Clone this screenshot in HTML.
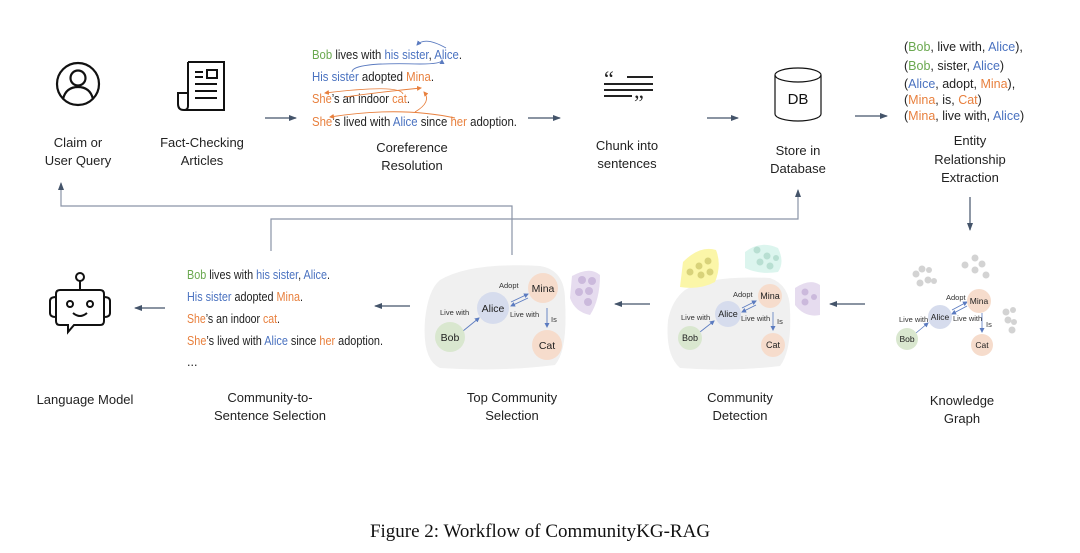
<!DOCTYPE html>
<html><head><meta charset="utf-8"><style>
html,body{margin:0;padding:0;background:#fff;}
svg{display:block;font-family:"Liberation Sans",sans-serif;}
.l{font-size:13px;fill:#222;text-anchor:middle;}
.g{fill:#6aa84f}.b{fill:#4a72c0}.o{fill:#e8803e}
.t{font-size:12.5px;fill:#222;}
.e{font-size:7.5px;fill:#333;}
</style></head><body>
<svg width="1080" height="553" viewBox="0 0 1080 553">
<defs>
<marker id="ah" markerWidth="8" markerHeight="8" refX="7" refY="4" orient="auto" markerUnits="userSpaceOnUse"><path d="M0,1 L8,4 L0,7z" fill="#44546a"/></marker>
<marker id="sa" markerWidth="5" markerHeight="5" refX="4" refY="2.5" orient="auto" markerUnits="userSpaceOnUse"><path d="M0,0 L5,2.5 L0,5z" fill="#5b7bc0"/></marker>
<marker id="so" markerWidth="5" markerHeight="5" refX="4" refY="2.5" orient="auto" markerUnits="userSpaceOnUse"><path d="M0,0 L5,2.5 L0,5z" fill="#e8803e"/></marker>
</defs>
<g stroke="#44546a" stroke-width="1.2" fill="none">
<line x1="265" y1="118" x2="296" y2="118" marker-end="url(#ah)"/>
<line x1="528" y1="118" x2="560" y2="118" marker-end="url(#ah)"/>
<line x1="707" y1="118" x2="738" y2="118" marker-end="url(#ah)"/>
<line x1="855" y1="116" x2="887" y2="116" marker-end="url(#ah)"/>
<line x1="970" y1="197" x2="970" y2="230" marker-end="url(#ah)"/>
<line x1="865" y1="304" x2="830" y2="304" marker-end="url(#ah)"/>
<line x1="650" y1="304" x2="615" y2="304" marker-end="url(#ah)"/>
<line x1="410" y1="306" x2="375" y2="306" marker-end="url(#ah)"/>
<line x1="165" y1="308" x2="135" y2="308" marker-end="url(#ah)"/>
<polyline points="512,255 512,206 61,206 61,183" marker-end="url(#ah)" stroke="#8a94a6"/>
<polyline points="271,251 271,219 798,219 798,190" marker-end="url(#ah)" stroke="#8a94a6"/>
</g>
<g stroke="#111" stroke-width="2.2" fill="none">
<circle cx="78" cy="84" r="21"/><circle cx="78" cy="78" r="7.5"/><path d="M63,99 Q66,87 78,87 Q90,87 93,99"/>
</g>
<g stroke="#111" stroke-width="2" fill="none">
<path d="M188,62 H224 V110 H184"/><path d="M188,62 V106 Q188,110 184,110 Q178,110 178,104 V93 H188"/>
<line x1="195" y1="72" x2="203" y2="72"/><line x1="195" y1="77" x2="203" y2="77"/><rect x="207" y="70" width="10" height="8"/>
<line x1="195" y1="84" x2="217" y2="84"/><line x1="195" y1="91" x2="217" y2="91"/><line x1="195" y1="98" x2="217" y2="98"/>
</g>
<g fill="#222"><text x="604" y="86" font-size="22" font-family="Liberation Serif">“</text><text x="634" y="110" font-size="22" font-family="Liberation Serif">”</text></g>
<g stroke="#222" stroke-width="2"><line x1="627" y1="77" x2="653" y2="77"/><line x1="604" y1="84" x2="653" y2="84"/><line x1="604" y1="90" x2="653" y2="90"/><line x1="604" y1="96" x2="632" y2="96"/></g>
<g stroke="#111" stroke-width="1.2" fill="none"><path d="M775,75 V114 A23,7 0 0 0 821,114 V75"/><ellipse cx="798" cy="75" rx="23" ry="7"/></g>
<text x="798" y="104" font-size="15" text-anchor="middle" fill="#111">DB</text>
<g class="t" font-size="11">
<text x="312" y="59" textLength="150" lengthAdjust="spacingAndGlyphs"><tspan class="g">Bob</tspan> lives with <tspan class="b">his sister</tspan>, <tspan class="b">Alice</tspan>.</text>
<text x="312" y="81" textLength="122" lengthAdjust="spacingAndGlyphs"><tspan class="b">His sister</tspan> adopted <tspan class="o">Mina</tspan>.</text>
<text x="312" y="103" textLength="98" lengthAdjust="spacingAndGlyphs"><tspan class="o">She</tspan>’s an indoor <tspan class="o">cat</tspan>.</text>
<text x="312" y="126" textLength="205" lengthAdjust="spacingAndGlyphs"><tspan class="o">She</tspan>’s lived with <tspan class="b">Alice</tspan> since <tspan class="o">her</tspan> adoption.</text>
</g>
<g fill="none" stroke-width="0.9">
<path d="M446,48 Q425,36 417,45" stroke="#5b7bc0" marker-end="url(#sa)"/>
<path d="M352,72 Q352,62 420,64 Q442,64 442,60" stroke="#5b7bc0" marker-end="url(#sa)"/>
<path d="M403,94 Q400,84 325,93" stroke="#e8803e" marker-end="url(#so)"/>
<path d="M345,97 Q380,92 421,88" stroke="#e8803e" marker-end="url(#so)"/>
<path d="M455,118 Q400,106 330,117" stroke="#e8803e" marker-end="url(#so)"/>
<path d="M415,112 Q432,102 424,92" stroke="#e8803e" marker-end="url(#so)"/>
</g>
<g class="t" font-size="12.5">
<text x="904" y="51">(<tspan class="g">Bob</tspan>, live with, <tspan class="b">Alice</tspan>),</text>
<text x="904" y="70">(<tspan class="g">Bob</tspan>, sister, <tspan class="b">Alice</tspan>)</text>
<text x="904" y="88">(<tspan class="b">Alice</tspan>, adopt, <tspan class="o">Mina</tspan>),</text>
<text x="904" y="104">(<tspan class="o">Mina</tspan>, is, <tspan class="o">Cat</tspan>)</text>
<text x="904" y="120">(<tspan class="o">Mina</tspan>, live with, <tspan class="b">Alice</tspan>)</text>
</g>
<g stroke="#111" stroke-width="2" fill="none">
<circle cx="80" cy="277" r="4"/><line x1="80" y1="281" x2="80" y2="290"/>
<path d="M60,290 H100 Q104,290 104,294 V321 Q104,325 100,325 H74 L68,332 V325 H60 Q56,325 56,321 V294 Q56,290 60,290z"/>
<path d="M56,297 Q50,297 50,301 V313 Q50,317 56,317"/><path d="M104,297 Q110,297 110,301 V313 Q110,317 104,317"/>
<circle cx="70" cy="304" r="3"/><circle cx="90" cy="304" r="3"/><path d="M73,313 Q80,319 87,313"/>
</g>
<g class="t" font-size="10.5">
<text x="187" y="279" textLength="143" lengthAdjust="spacingAndGlyphs"><tspan class="g">Bob</tspan> lives with <tspan class="b">his sister</tspan>, <tspan class="b">Alice</tspan>.</text>
<text x="187" y="301" textLength="116" lengthAdjust="spacingAndGlyphs"><tspan class="b">His sister</tspan> adopted <tspan class="o">Mina</tspan>.</text>
<text x="187" y="323" textLength="93" lengthAdjust="spacingAndGlyphs"><tspan class="o">She</tspan>’s an indoor <tspan class="o">cat</tspan>.</text>
<text x="187" y="345" textLength="196" lengthAdjust="spacingAndGlyphs"><tspan class="o">She</tspan>’s lived with <tspan class="b">Alice</tspan> since <tspan class="o">her</tspan> adoption.</text>
<text x="187" y="366">...</text>
</g>
<path d="M440,280 Q470,262 540,266 Q565,270 565,300 Q568,350 555,365 Q500,372 440,368 Q422,360 425,320 Q428,290 440,280z" fill="#f0f0f0"/>
<path d="M572,276 Q590,266 600,275 Q600,300 590,315 Q575,312 570,298z" fill="#e6dcef"/>
<g fill="#cbb9dc"><circle cx="582" cy="280" r="4"/><circle cx="592" cy="281" r="4"/><circle cx="589" cy="291" r="4"/><circle cx="579" cy="292" r="4"/><circle cx="588" cy="302" r="4"/></g>
<g stroke="#5b7bc0" stroke-width="0.9" fill="none">
<line x1="463" y1="331" x2="479" y2="318" marker-end="url(#sa)"/>
<line x1="511" y1="302" x2="528" y2="294" marker-end="url(#sa)"/>
<line x1="528" y1="298" x2="511" y2="306" marker-end="url(#sa)"/>
<line x1="547" y1="308" x2="547" y2="327" marker-end="url(#sa)"/>
</g>
<circle cx="493" cy="308" r="16" fill="#d6dced"/><circle cx="543" cy="288" r="15" fill="#f6dccc"/>
<circle cx="450" cy="337" r="15" fill="#d9e7cf"/><circle cx="547" cy="345" r="15" fill="#f6dccc"/>
<g font-size="10.5" text-anchor="middle" fill="#222"><text x="493" y="312">Alice</text><text x="543" y="292">Mina</text><text x="450" y="341">Bob</text><text x="547" y="349">Cat</text></g>
<g class="e" font-size="8"><text x="499" y="288">Adopt</text><text x="440" y="315">Live with</text><text x="510" y="317">Live with</text><text x="551" y="322">Is</text></g>
<path d="M685,290 Q710,275 770,278 Q790,285 790,310 Q792,350 780,366 Q730,372 680,368 Q665,355 668,320 Q672,300 685,290z" fill="#f0f0f0"/>
<path d="M683,262 Q700,245 716,250 Q722,265 715,282 Q700,290 680,287z" fill="#fbf6a8"/>
<g fill="#d8d27a"><circle cx="690" cy="272" r="3.5"/><circle cx="699" cy="266" r="3.5"/><circle cx="708" cy="261" r="3.5"/><circle cx="701" cy="275" r="3.5"/><circle cx="710" cy="272" r="3.5"/></g>
<path d="M745,252 Q760,240 778,248 Q785,262 778,272 Q760,275 745,268z" fill="#dcf5ee"/>
<g fill="#b8dfd2"><circle cx="757" cy="250" r="3.5"/><circle cx="767" cy="256" r="3.5"/><circle cx="776" cy="258" r="3"/><circle cx="760" cy="262" r="3.5"/><circle cx="770" cy="266" r="3.5"/></g>
<path d="M795,288 Q810,278 820,285 V315 Q805,318 795,305z" fill="#e6dcef"/>
<g fill="#cbb9dc"><circle cx="805" cy="292" r="3.5"/><circle cx="805" cy="302" r="3.5"/><circle cx="814" cy="297" r="3"/></g>
<g stroke="#5b7bc0" stroke-width="0.8" fill="none">
<line x1="700" y1="332" x2="714" y2="321" marker-end="url(#sa)"/>
<line x1="742" y1="308" x2="756" y2="301" marker-end="url(#sa)"/>
<line x1="756" y1="305" x2="742" y2="312" marker-end="url(#sa)"/>
<line x1="773" y1="312" x2="773" y2="330" marker-end="url(#sa)"/>
</g>
<circle cx="728" cy="314" r="13" fill="#d6dced"/><circle cx="770" cy="296" r="12" fill="#f6dccc"/>
<circle cx="690" cy="338" r="12" fill="#d9e7cf"/><circle cx="773" cy="345" r="12" fill="#f6dccc"/>
<g font-size="9" text-anchor="middle" fill="#222"><text x="728" y="317">Alice</text><text x="770" y="299">Mina</text><text x="690" y="341">Bob</text><text x="773" y="348">Cat</text></g>
<g class="e" font-size="7"><text x="733" y="297">Adopt</text><text x="681" y="320">Live with</text><text x="741" y="321">Live with</text><text x="777" y="324">Is</text></g>
<g fill="#d3d3d3">
<circle cx="916" cy="274" r="3.5"/><circle cx="922" cy="269" r="3.5"/><circle cx="929" cy="270" r="3"/><circle cx="920" cy="283" r="3.5"/><circle cx="928" cy="280" r="3.5"/><circle cx="934" cy="281" r="3"/>
<circle cx="965" cy="265" r="3.5"/><circle cx="975" cy="258" r="3.5"/><circle cx="982" cy="264" r="3.5"/><circle cx="975" cy="270" r="3.5"/><circle cx="986" cy="275" r="3.5"/>
<circle cx="1006" cy="312" r="3.5"/><circle cx="1013" cy="310" r="3"/><circle cx="1008" cy="320" r="3.5"/><circle cx="1014" cy="322" r="3"/><circle cx="1012" cy="330" r="3.5"/>
</g>
<g stroke="#5b7bc0" stroke-width="0.8" fill="none">
<line x1="916" y1="333" x2="928" y2="323" marker-end="url(#sa)"/>
<line x1="952" y1="310" x2="967" y2="302" marker-end="url(#sa)"/>
<line x1="967" y1="306" x2="952" y2="314" marker-end="url(#sa)"/>
<line x1="982" y1="313" x2="982" y2="332" marker-end="url(#sa)"/>
</g>
<circle cx="940" cy="317" r="12" fill="#d6dced"/><circle cx="979" cy="301" r="12" fill="#f6dccc"/>
<circle cx="907" cy="339" r="11" fill="#d9e7cf"/><circle cx="982" cy="345" r="11" fill="#f6dccc"/>
<g font-size="8.5" text-anchor="middle" fill="#222"><text x="940" y="320">Alice</text><text x="979" y="304">Mina</text><text x="907" y="342">Bob</text><text x="982" y="348">Cat</text></g>
<g class="e" font-size="6.5"><text x="946" y="300">Adopt</text><text x="899" y="322">Live with</text><text x="953" y="321">Live with</text><text x="986" y="327">Is</text></g>
<g class="l">
<text x="78" y="147">Claim or</text><text x="78" y="165">User Query</text>
<text x="202" y="147">Fact-Checking</text><text x="202" y="165">Articles</text>
<text x="412" y="152">Coreference</text><text x="412" y="170">Resolution</text>
<text x="627" y="150">Chunk into</text><text x="627" y="168">sentences</text>
<text x="798" y="155">Store in</text><text x="798" y="173">Database</text>
<text x="970" y="145">Entity</text><text x="970" y="164">Relationship</text><text x="970" y="182">Extraction</text>
<text x="85" y="404">Language Model</text>
<text x="270" y="402">Community-to-</text><text x="270" y="420">Sentence Selection</text>
<text x="512" y="402">Top Community</text><text x="512" y="420">Selection</text>
<text x="740" y="402">Community</text><text x="740" y="420">Detection</text>
<text x="962" y="405">Knowledge</text><text x="962" y="423">Graph</text>
</g>
<text x="540" y="537" font-family="Liberation Serif" font-size="19" text-anchor="middle" fill="#111">Figure 2: Workflow of CommunityKG-RAG</text>
</svg>
</body></html>
